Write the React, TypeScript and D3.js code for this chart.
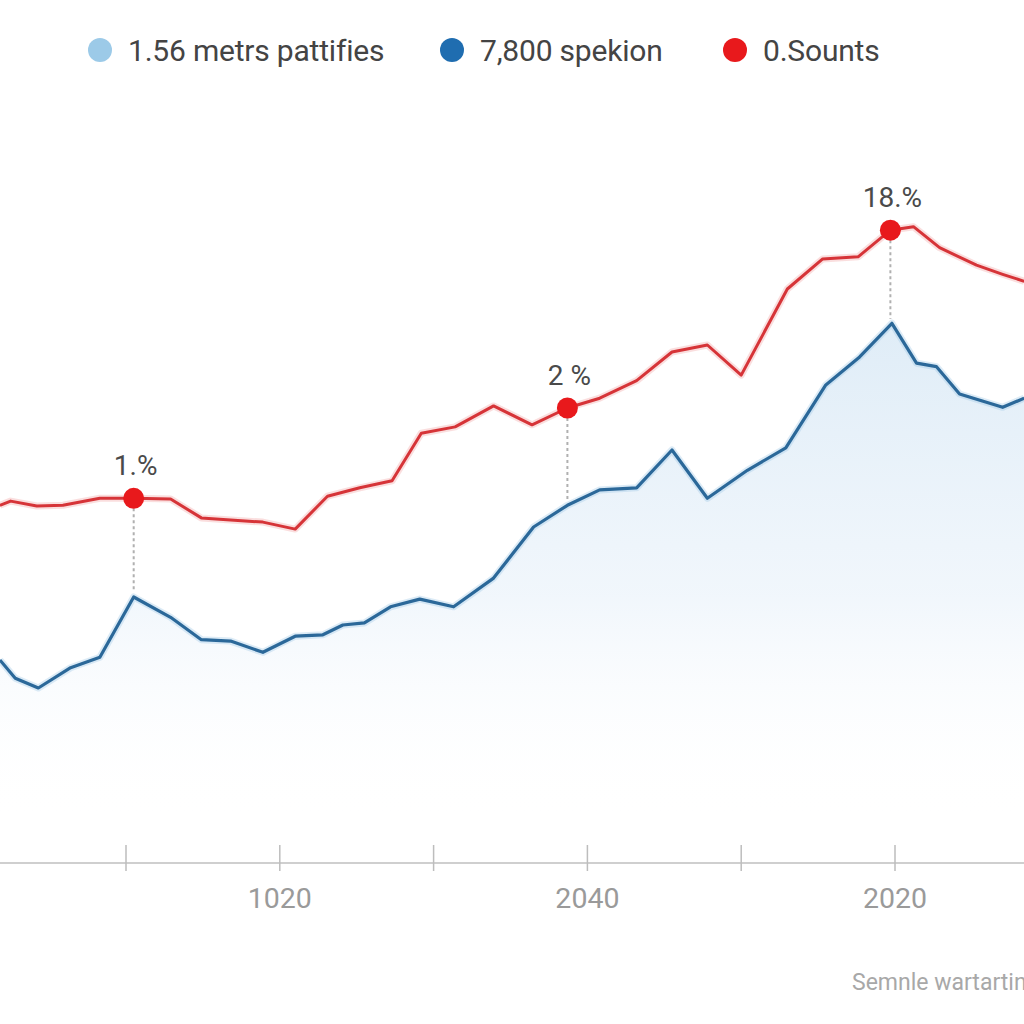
import React from "react";
import * as d3 from "d3";

// ---- data ----
const legendLabels = ["1.56 metrs pattifies", "7,800 spekion", "0.Sounts"];
const legendColors = ["#9ccae8", "#1f6db0", "#e8191c"];

const tickPositions = [1, 2, 3, 4, 5, 6];
const tickLabels = ["", "1020", "", "2040", "", "2020"];

const redX = [0.18, 0.25, 0.42, 0.59, 0.83, 1.05, 1.29, 1.49, 1.68, 1.89, 2.1, 2.31, 2.52, 2.73, 2.92, 3.14, 3.39, 3.64, 3.87, 4.08, 4.32, 4.55, 4.78, 5.0, 5.3, 5.53, 5.76, 5.97, 6.12, 6.29, 6.53, 6.7, 6.84];
const redY = [51.1, 51.7, 51.0, 51.1, 52.1, 52.1, 52.0, 49.3, 49.0, 48.7, 47.7, 52.4, 53.6, 54.6, 61.4, 62.3, 65.3, 62.6, 65.0, 66.4, 68.9, 73.0, 74.0, 69.7, 82.0, 86.3, 86.6, 90.4, 90.9, 87.9, 85.4, 84.1, 83.1];

const blueX = [0.18, 0.28, 0.43, 0.64, 0.83, 1.05, 1.29, 1.49, 1.68, 1.89, 2.1, 2.28, 2.41, 2.55, 2.72, 2.91, 3.13, 3.39, 3.65, 3.87, 4.08, 4.32, 4.55, 4.78, 5.04, 5.29, 5.55, 5.77, 5.98, 6.14, 6.27, 6.42, 6.7, 6.84];
const blueY = [29.0, 26.4, 25.0, 27.9, 29.4, 38.0, 35.1, 31.9, 31.7, 30.1, 32.4, 32.6, 34.0, 34.3, 36.6, 37.7, 36.6, 40.7, 48.0, 51.1, 53.3, 53.6, 59.0, 52.1, 56.1, 59.3, 68.3, 72.3, 77.1, 71.4, 70.9, 67.0, 65.1, 66.4];

const annotIndex = [5, 18, 27];
const annotLabels = ["1.%", "2 %", "18.%"];

const footerText = "Semnle wartartin";

// ---- layout ----
const W = 1024;
const H = 1024;
const FONT = "Roboto, 'Noto Sans', sans-serif";

export default function App() {
  const x = d3.scaleLinear().domain([0, 6]).range([-27.8, 895]);
  const y = d3.scaleLinear().domain([0, 100]).range([863, 163]);

  const red = redX.map((v, i) => [v, redY[i]] as [number, number]);
  const blue = blueX.map((v, i) => [v, blueY[i]] as [number, number]);

  const line = d3
    .line<[number, number]>()
    .x((d) => x(d[0]))
    .y((d) => y(d[1]));
  const area = d3
    .area<[number, number]>()
    .x((d) => x(d[0]))
    .y0(y(0))
    .y1((d) => y(d[1]));

  const blueAt = (xv: number) => {
    const i = d3.bisector((d: [number, number]) => d[0]).left(blue, xv);
    if (i <= 0) return blue[0][1];
    if (i >= blue.length) return blue[blue.length - 1][1];
    const a = blue[i - 1];
    const b = blue[i];
    const t = (xv - a[0]) / (b[0] - a[0]);
    return a[1] + t * (b[1] - a[1]);
  };

  const legendX = [100, 452, 735];

  return (
    <svg
      width={W}
      height={H}
      viewBox={`0 0 ${W} ${H}`}
      style={{ position: "absolute", left: 0, top: 0, background: "#fff" }}
    >
      <defs>
        <linearGradient id="blueFill" gradientUnits="userSpaceOnUse" x1="0" y1={y(78)} x2="0" y2={y(6)}>
          <stop offset="0%" stopColor="#dbeaf6" stopOpacity={0.9} />
          <stop offset="55%" stopColor="#e9f2fa" stopOpacity={0.65} />
          <stop offset="100%" stopColor="#ffffff" stopOpacity={0} />
        </linearGradient>
      </defs>
      <rect x={0} y={0} width={W} height={H} fill="#ffffff" />

      {/* area under blue */}
      <path d={area(blue) || ""} fill="url(#blueFill)" />

      {/* axis */}
      <line x1={0} x2={W} y1={y(0)} y2={y(0)} stroke="#cfcfcf" strokeWidth={2} />
      {tickPositions.map((t, i) => (
        <g key={i}>
          <line x1={x(t)} x2={x(t)} y1={y(0) - 18} y2={y(0) + 8} stroke="#bdbdbd" strokeWidth={1.5} />
          {tickLabels[i] && (
            <text
              x={x(t)}
              y={y(0) + 45}
              textAnchor="middle"
              fontFamily={FONT}
              fontSize={28.5}
              fill="#9a9a9a"
            >
              {tickLabels[i]}
            </text>
          )}
        </g>
      ))}

      {/* dashed connectors */}
      {annotIndex.map((idx, i) => {
        const xv = red[idx][0];
        return (
          <line
            key={i}
            x1={x(xv)}
            x2={x(xv)}
            y1={y(red[idx][1]) + 10}
            y2={y(blueAt(xv)) - 6}
            stroke="#b0b0b0"
            strokeWidth={2}
            strokeDasharray="3,3"
          />
        );
      })}

      {/* lines with soft halo */}
      <path d={line(blue) || ""} fill="none" stroke="#9cc6e6" strokeOpacity={0.35} strokeWidth={7} strokeLinejoin="round" />
      <path d={line(blue) || ""} fill="none" stroke="#2b6899" strokeWidth={3.2} strokeLinejoin="round" />
      <path d={line(red) || ""} fill="none" stroke="#f2a0a0" strokeOpacity={0.35} strokeWidth={7} strokeLinejoin="round" />
      <path d={line(red) || ""} fill="none" stroke="#d63438" strokeWidth={3} strokeLinejoin="round" />

      {/* annotation dots + labels */}
      {annotIndex.map((idx, i) => {
        const [xv, yv] = red[idx];
        return (
          <g key={i}>
            <circle cx={x(xv)} cy={y(yv)} r={10.5} fill="#e8191c" />
            <text
              x={x(xv) + 2}
              y={y(yv) - 23}
              textAnchor="middle"
              fontFamily={FONT}
              fontSize={28}
              fill="#4a4a4a"
            >
              {annotLabels[i]}
            </text>
          </g>
        );
      })}

      {/* legend */}
      {legendLabels.map((lab, i) => (
        <g key={i}>
          <circle cx={legendX[i]} cy={50} r={12} fill={legendColors[i]} />
          <text
            x={legendX[i] + 28}
            y={61}
            fontFamily={FONT}
            fontSize={30}
            letterSpacing={-0.2}
            fill="#444"
          >
            {lab}
          </text>
        </g>
      ))}

      {/* footer */}
      <text x={852} y={990} fontFamily={FONT} fontSize={23} fill="#a8a8a8">
        {footerText}
      </text>
    </svg>
  );
}
